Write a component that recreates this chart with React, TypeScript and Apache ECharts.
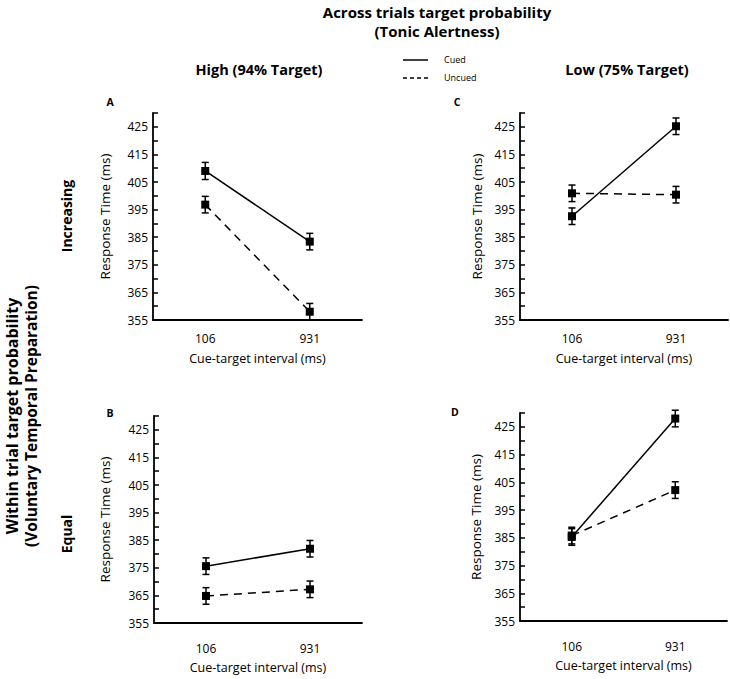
import React, { useEffect, useRef } from "react";
import * as echarts from "echarts";

const categories = ["106", "931"];
const yMin = 355;
const yMax = 430;
const yStep = 5;

// Panel A: Increasing, High (94% Target)
const aCued = [409, 383.4];
const aCuedErr = [3.1, 3];
const aUncued = [396.8, 358];
const aUncuedErr = [3, 3];
// Panel B: Equal, High (94% Target)
const bCued = [375.6, 381.9];
const bCuedErr = [3, 3];
const bUncued = [364.8, 367.2];
const bUncuedErr = [3, 3];
// Panel C: Increasing, Low (75% Target)
const cCued = [392.6, 425.2];
const cCuedErr = [3, 3];
const cUncued = [400.9, 400.4];
const cUncuedErr = [3, 3];
// Panel D: Equal, Low (75% Target)
const dCued = [385.3, 428];
const dCuedErr = [3, 3];
const dUncued = [385.8, 402.2];
const dUncuedErr = [3, 3];

const FONT = "'Open Sans', 'DejaVu Sans', sans-serif";

const panels = [
  { cued: aCued, cuedErr: aCuedErr, uncued: aUncued, uncuedErr: aUncuedErr, grid: { left: 153, top: 113, width: 209, height: 207 }, tickInside: false, labelMargin: 12, nameGap: 32, yNameGap: 41 },
  { cued: cCued, cuedErr: cCuedErr, uncued: cUncued, uncuedErr: cUncuedErr, grid: { left: 520, top: 113, width: 208, height: 207 }, tickInside: false, labelMargin: 12, nameGap: 32, yNameGap: 36 },
  { cued: bCued, cuedErr: bCuedErr, uncued: bUncued, uncuedErr: bUncuedErr, grid: { left: 154, top: 416, width: 208, height: 207 }, tickInside: true, labelMargin: 19, nameGap: 38, yNameGap: 42 },
  { cued: dCued, cuedErr: dCuedErr, uncued: dUncued, uncuedErr: dUncuedErr, grid: { left: 520, top: 413, width: 207, height: 208 }, tickInside: true, labelMargin: 19, nameGap: 38, yNameGap: 37 },
];

function errorSeries(gridIndex: number, vals: number[], errs: number[]) {
  return {
    type: "custom",
    xAxisIndex: gridIndex,
    yAxisIndex: gridIndex,
    data: vals.map((v, j) => [j, v, errs[j]]),
    encode: { x: 0, y: 1 },
    silent: true,
    renderItem: (params: any, api: any) => {
      const x = api.value(0);
      const v = api.value(1);
      const e = api.value(2);
      const top = api.coord([x, v + e]);
      const bot = api.coord([x, v - e]);
      const hw = 3.5;
      const st = { stroke: "#000", lineWidth: 1.5 };
      return {
        type: "group",
        children: [
          { type: "line", shape: { x1: top[0], y1: top[1], x2: bot[0], y2: bot[1] }, style: st },
          { type: "line", shape: { x1: top[0] - hw, y1: top[1], x2: top[0] + hw, y2: top[1] }, style: st },
          { type: "line", shape: { x1: bot[0] - hw, y1: bot[1], x2: bot[0] + hw, y2: bot[1] }, style: st },
        ],
      };
    },
  };
}

export default function App() {
  const ref = useRef<HTMLDivElement>(null);
  useEffect(() => {
    document.body.style.margin = "0";
    if (!ref.current) return;
    const chart = echarts.init(ref.current, null, { renderer: "svg" });

    const grids = panels.map((p) => p.grid);
    const xAxes = panels.map((p, i) => ({
      type: "category",
      gridIndex: i,
      data: categories,
      boundaryGap: true,
      name: "Cue-target interval (ms)",
      nameLocation: "middle",
      nameGap: p.nameGap,
      nameTextStyle: { fontFamily: FONT, fontSize: 12.5, color: "#000" },
      axisLine: { lineStyle: { color: "#000", width: 1.8 } },
      axisTick: { alignWithLabel: true, inside: p.tickInside, length: 5, lineStyle: { color: "#000", width: 1.5 } },
      axisLabel: { fontFamily: FONT, fontSize: 12, color: "#000", margin: p.labelMargin },
      splitLine: { show: false },
    }));
    const yAxes = panels.map((p, i) => ({
      type: "value",
      gridIndex: i,
      min: yMin,
      max: yMax,
      interval: yStep,
      name: "Response Time (ms)",
      nameLocation: "middle",
      nameGap: p.yNameGap,
      nameTextStyle: { fontFamily: FONT, fontSize: 13.5, color: "#000" },
      axisLine: { show: true, lineStyle: { color: "#000", width: 1.8 } },
      axisTick: { show: true, inside: true, length: 5, lineStyle: { color: "#000", width: 1.5 } },
      axisLabel: {
        fontFamily: FONT,
        fontSize: 12,
        color: "#000",
        margin: 5,
        formatter: (v: number) => ((v - yMin) % 10 === 0 ? String(v) : ""),
      },
      splitLine: { show: false },
    }));

    const series: any[] = [];
    panels.forEach((p, i) => {
      series.push(errorSeries(i, p.cued, p.cuedErr));
      series.push(errorSeries(i, p.uncued, p.uncuedErr));
      series.push({
        type: "line",
        name: "Cued",
        xAxisIndex: i,
        yAxisIndex: i,
        data: p.cued,
        symbol: "rect",
        symbolSize: 8,
        itemStyle: { color: "#000" },
        lineStyle: { color: "#000", width: 1.5, type: "solid" },
        z: 3,
      });
      series.push({
        type: "line",
        name: "Uncued",
        xAxisIndex: i,
        yAxisIndex: i,
        data: p.uncued,
        symbol: "rect",
        symbolSize: 8,
        itemStyle: { color: "#000" },
        lineStyle: { color: "#000", width: 1.5, type: [8, 6] },
        z: 3,
      });
    });

    const boldTxt = (text: string, x: number, y: number, size: number, rot = 0) => ({
      type: "text",
      x,
      y,
      rotation: rot,
      style: {
        text,
        fontFamily: FONT,
        fontWeight: "bold",
        fontSize: size,
        fill: "#000",
        align: "center",
        verticalAlign: "middle",
      },
    });

    const graphic: any[] = [
      boldTxt("Across trials target probability", 437, 12, 15),
      boldTxt("(Tonic Alertness)", 437, 31, 15),
      boldTxt("High (94% Target)", 259, 69, 14.5),
      boldTxt("Low (75% Target)", 627, 69, 14.5),
      boldTxt("A", 110, 102, 10.5),
      boldTxt("C", 457, 102, 10.5),
      boldTxt("B", 110, 413, 10.5),
      boldTxt("D", 455, 412, 10.5),
      boldTxt("Increasing", 66, 216, 14, Math.PI / 2),
      boldTxt("Equal", 66, 534, 14, Math.PI / 2),
      boldTxt("Within trial target probability", 12, 416, 16, Math.PI / 2),
      boldTxt("(Voluntary Temporal Preparation)", 31, 416, 15.5, Math.PI / 2),
      { type: "line", shape: { x1: 403, y1: 60, x2: 428, y2: 60 }, style: { stroke: "#000", lineWidth: 1.5 } },
      { type: "line", shape: { x1: 403, y1: 78, x2: 428, y2: 78 }, style: { stroke: "#000", lineWidth: 1.5, lineDash: [4, 3] } },
      { type: "text", x: 444, y: 59, style: { text: "Cued", fontFamily: FONT, fontSize: 9, fill: "#000", align: "left", verticalAlign: "middle" } },
      { type: "text", x: 444, y: 77, style: { text: "Uncued", fontFamily: FONT, fontSize: 9, fill: "#000", align: "left", verticalAlign: "middle" } },
    ];

    chart.setOption({
      animation: false,
      backgroundColor: "#fff",
      grid: grids,
      xAxis: xAxes,
      yAxis: yAxes,
      series,
      graphic,
    });
    return () => chart.dispose();
  }, []);
  return <div ref={ref} style={{ width: 730, height: 679 }} />;
}
